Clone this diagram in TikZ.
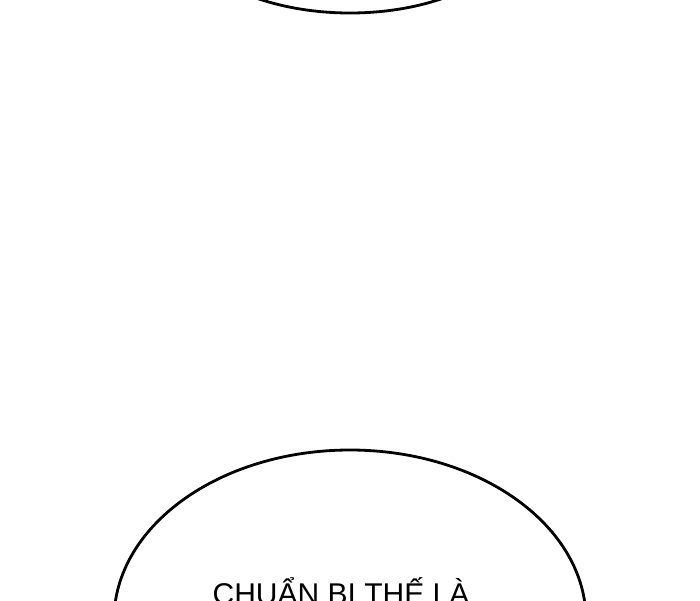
\documentclass[tikz,border=0pt]{standalone}
\usepackage{fontspec}
\setmainfont{Liberation Sans}
\usetikzlibrary{positioning}

\begin{document}
\begin{tikzpicture}[x=1pt, y=-1pt]
\tikzstyle{bubble}=[draw=black, fill=white, line width=2.8pt]
\tikzstyle{speech}=[text=black, font=\fontsize{30}{36}\selectfont, inner sep=0pt]

\useasboundingbox (0,0) rectangle (700,600);
\clip (0,0) rectangle (700,600);

\draw[bubble] (350,-87) ellipse [x radius=178, y radius=100];
\draw[bubble] (350,620) ellipse [x radius=236, y radius=170];

\node[speech, anchor=base] (line1) at (341,604) {CHUẨN BỊ THẾ LÀ};

\end{tikzpicture}
\end{document}
